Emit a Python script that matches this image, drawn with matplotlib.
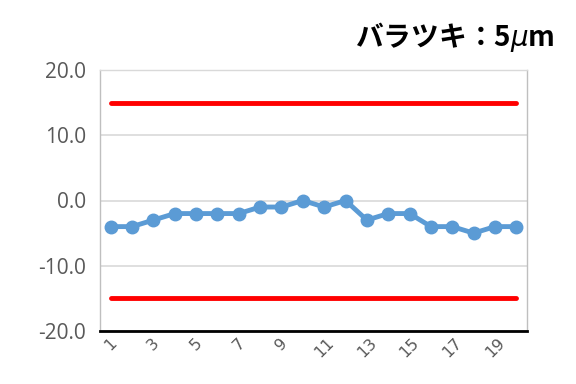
import numpy as np
import matplotlib.pyplot as plt

plt.rcParams['font.family'] = ['Noto Sans CJK JP', 'DejaVu Sans']

# data
x = np.arange(1, 21)
values = [-4, -4, -3, -2, -2, -2, -2, -1, -1, 0, -1, 0, -3, -2, -2, -4, -4, -5, -4, -4]
upper = [15] * 20
lower = [-15] * 20
yticks = [-20, -10, 0, 10, 20]
xtick_labels = [str(i) if i % 2 == 1 else '' for i in x]

fig = plt.figure(figsize=(5.76, 3.84), dpi=100)
ax = fig.add_axes([100 / 576, 53 / 384, 427 / 576, 261 / 384])

ax.plot(x, upper, color='#FF0000', lw=3.5, solid_capstyle='round', zorder=3)
ax.plot(x, lower, color='#FF0000', lw=3.5, solid_capstyle='round', zorder=3)
ax.plot(x, values, color='#5B9BD5', lw=3.5, marker='o', ms=9, zorder=4)

ax.set_xlim(0.5, 20.5)
ax.set_ylim(-20, 20)
ax.set_yticks(yticks)
ax.set_yticklabels(['%.1f' % v for v in yticks], family='Open Sans',
                   fontsize=15, color='#595959')
ax.set_xticks(x)
ax.set_xticklabels(xtick_labels, rotation=45, family='DejaVu Sans',
                   fontsize=11.5, color='#595959', ha='center', va='top')
ax.tick_params(axis='y', length=0, pad=10)
ax.tick_params(axis='x', length=0, pad=3)
ax.grid(axis='y', color='#D9D9D9', lw=1.2)
ax.set_axisbelow(True)
for s in ['left', 'right', 'top']:
    ax.spines[s].set_color('#BFBFBF')
    ax.spines[s].set_linewidth(1)
ax.spines['top'].set_color('#D9D9D9')
ax.spines['bottom'].set_color('black')
ax.spines['bottom'].set_linewidth(2)

fig.text(555 / 576, 1 - 37 / 384, 'バラツキ：5$\\mu$m', ha='right', va='center',
         fontsize=20, fontweight='bold', color='black')

fig.savefig('out.png', dpi=100)
